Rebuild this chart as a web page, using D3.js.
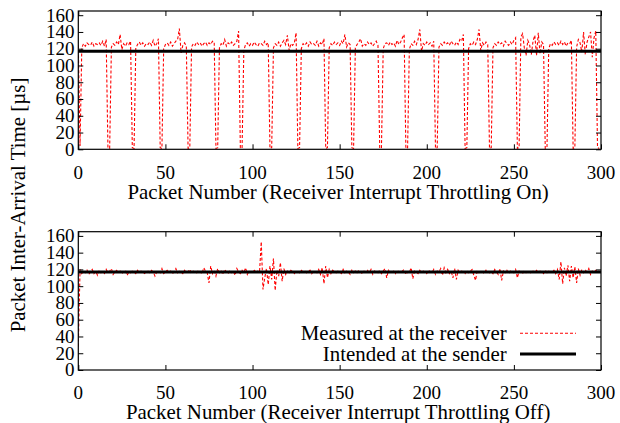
<!DOCTYPE html>
<html>
<head>
<meta charset="utf-8">
<script src="https://cdn.jsdelivr.net/npm/d3@7"></script>
<style>
  html, body { margin: 0; padding: 0; background: #fff; }
</style>
</head>
<body>
<svg id="chart" width="620" height="423"></svg>
<script>
// ---- Data ----
const xTicks = [0, 50, 100, 150, 200, 250, 300];
const yTicks = [0, 20, 40, 60, 80, 100, 120, 140, 160];
const yLabel = "Packet Inter-Arrival Time [µs]";
const xLabelOn = "Packet Number (Receiver Interrupt Throttling On)";
const xLabelOff = "Packet Number (Receiver Interrupt Throttling Off)";
const legendMeasured = "Measured at the receiver";
const legendIntended = "Intended at the sender";

// Intended inter-arrival time at the sender (constant), endpoints in packet number
const intendedPackets = [0, 300];
const intendedValues = [117, 117];

// Measured at receiver, throttling ON (packets 0..299)
const measuredOn = [
  124, 4, 121, 126, 123, 127, 125, 124, 128, 123,
  126, 125, 127, 124, 129, 123, 131, 2, 1, 122,
  126, 124, 128, 125, 137, 119, 126, 123, 127, 125,
  129, 2, 1, 121, 125, 128, 124, 127, 123, 126,
  125, 128, 124, 130, 123, 126, 132, 2, 1, 120,
  125, 127, 124, 128, 123, 126, 129, 131, 144, 115,
  124, 127, 123, 1, 2, 122, 126, 124, 128, 125,
  127, 123, 126, 128, 124, 127, 125, 129, 128, 1,
  2, 121, 126, 124, 131, 123, 127, 125, 128, 124,
  126, 129, 141, 2, 1, 118, 125, 127, 123, 126,
  124, 128, 125, 123, 127, 126, 124, 129, 125, 127,
  1, 2, 121, 126, 124, 128, 123, 127, 130, 125,
  136, 118, 126, 124, 127, 139, 1, 2, 120, 126,
  124, 127, 123, 128, 125, 126, 124, 129, 123, 127,
  125, 132, 1, 2, 121, 126, 124, 128, 125, 127,
  124, 129, 126, 137, 122, 127, 125, 2, 1, 121,
  125, 128, 132, 123, 126, 124, 128, 125, 127, 123,
  126, 129, 124, 1, 2, 120, 126, 127, 124, 128,
  125, 127, 123, 130, 125, 128, 133, 137, 1, 2,
  119, 126, 124, 129, 125, 131, 143, 117, 126, 124,
  128, 125, 127, 123, 129, 1, 2, 122, 126, 124,
  128, 125, 127, 124, 129, 126, 124, 128, 125, 131,
  129, 137, 1, 2, 120, 126, 124, 128, 125, 131,
  143, 118, 127, 124, 128, 125, 1, 2, 121, 126,
  124, 128, 125, 127, 123, 129, 126, 124, 128, 125,
  130, 133, 1, 2, 134, 138, 121, 112, 130, 125,
  113, 129, 136, 112, 139, 114, 128, 125, 1, 2,
  120, 126, 124, 128, 125, 127, 124, 129, 125, 128,
  123, 127, 126, 130, 1, 2, 122, 131, 127, 116,
  140, 113, 128, 134, 140, 110, 133, 141, 2, 1
];

// Measured at receiver, throttling OFF (packets 0..299)
const measuredOff = [
  28, 120, 115, 118, 116, 119, 114, 117, 120, 115,
  118, 113, 119, 116, 117, 115, 120, 116, 118, 121,
  114, 117, 119, 116, 118, 115, 117, 119, 113, 117,
  116, 118, 117, 115, 119, 116, 118, 117, 115, 117,
  118, 116, 119, 117, 112, 117, 118, 116, 121, 115,
  117, 119, 116, 118, 115, 117, 121, 116, 118, 117,
  115, 119, 116, 117, 120, 115, 118, 117, 116, 119,
  117, 115, 122, 118, 116, 104, 124, 115, 119, 112,
  121, 116, 118, 114, 120, 117, 115, 119, 116, 118,
  113, 121, 117, 115, 119, 116, 122, 114, 118, 117,
  116, 119, 117, 118, 116, 153, 96, 110, 121, 102,
  124, 108, 133, 95, 119, 112, 128, 106, 121, 114,
  118, 116, 119, 117, 115, 118, 117, 116, 119, 117,
  118, 116, 117, 119, 115, 118, 117, 116, 120, 114,
  122, 103, 124, 110, 120, 115, 119, 117, 116, 118,
  117, 115, 120, 116, 118, 117, 114, 119, 116, 118,
  116, 119, 117, 115, 118, 117, 119, 116, 120, 114,
  118, 117, 116, 119, 115, 118, 121, 110, 119, 116,
  117, 118, 115, 119, 117, 116, 118, 120, 114, 117,
  116, 122, 109, 118, 117, 115, 119, 116, 118, 117,
  115, 119, 117, 116, 120, 114, 118, 117, 121, 113,
  122, 116, 120, 115, 118, 110, 121, 108, 119, 116,
  118, 117, 115, 119, 116, 118, 120, 113, 107, 119,
  116, 118, 117, 115, 119, 117, 116, 118, 115, 120,
  117, 114, 121, 107, 118, 116, 119, 115, 118, 117,
  116, 120, 110, 118, 117, 115, 119, 116, 118, 117,
  115, 118, 117, 119, 116, 118, 117, 115, 119, 116,
  118, 117, 116, 119, 115, 120, 108, 129, 103, 122,
  112, 125, 106, 124, 110, 123, 104, 121, 113, 120,
  116, 119, 117, 121, 114, 118, 116, 119, 117, 118
];

// ---- Drawing ----
const svg = d3.select("#chart");
const FONT = '"Liberation Serif"';
const left = 78.3, right = 601;
const xDomain = [0, 300], yDomain = [0, 165];

const panels = [
  { data: measuredOn, top: 11, bottom: 149.3, label: xLabelOn, tickBase: 179, labelBase: 199 },
  { data: measuredOff, top: 231.7, bottom: 370, label: xLabelOff, tickBase: 399, labelBase: 418.5 }
];

const tickLen = 5;
const red = "#ff0000";

function txt(sel) {
  return sel.style("font-family", FONT).attr("fill", "#000");
}

panels.forEach((p, pi) => {
  const x = d3.scaleLinear().domain(xDomain).range([left, right]);
  const y = d3.scaleLinear().domain(yDomain).range([p.bottom, p.top]);
  const g = svg.append("g");

  const clipId = "clip" + pi;
  svg.append("defs").append("clipPath").attr("id", clipId)
    .append("rect").attr("x", left).attr("y", p.top)
    .attr("width", right - left).attr("height", p.bottom - p.top);

  // measured line
  const line = d3.line().x((d, i) => x(i)).y(d => y(d));
  g.append("path").datum(p.data)
    .attr("clip-path", `url(#${clipId})`)
    .attr("d", line)
    .attr("fill", "none").attr("stroke", red)
    .attr("stroke-width", 1.1).attr("stroke-dasharray", "3,2");

  // intended line
  const iline = d3.line().x((d, i) => x(intendedPackets[i])).y(d => y(d));
  g.append("path").datum(intendedValues)
    .attr("d", iline)
    .attr("fill", "none").attr("stroke", "#000").attr("stroke-width", 3);

  // axes (ticks inward, mirrored)
  const axL = d3.axisLeft(y).tickValues(yTicks).tickSize(-tickLen).tickFormat("");
  const axR = d3.axisRight(y).tickValues(yTicks).tickSize(-tickLen).tickFormat("");
  const axB = d3.axisBottom(x).tickValues(xTicks).tickSize(-tickLen).tickFormat("");
  const axT = d3.axisTop(x).tickValues(xTicks).tickSize(-tickLen).tickFormat("");

  g.append("g").attr("transform", `translate(${left},0)`).call(axL);
  g.append("g").attr("transform", `translate(${right},0)`).call(axR);
  g.append("g").attr("transform", `translate(0,${p.bottom})`).call(axB);
  g.append("g").attr("transform", `translate(0,${p.top})`).call(axT);

  g.selectAll(".domain").remove();
  g.selectAll(".tick text").remove();
  g.selectAll(".tick line").attr("stroke", "#000").attr("stroke-width", 1);

  // y tick labels
  txt(g.selectAll(".ytl").data(yTicks).enter().append("text"))
    .attr("x", 74.5).attr("y", d => y(d)).attr("dy", "0.34em")
    .attr("text-anchor", "end").attr("font-size", "19px")
    .text(d => d);

  // x tick labels
  txt(g.selectAll(".xtl").data(xTicks).enter().append("text"))
    .attr("x", d => x(d)).attr("y", p.tickBase)
    .attr("text-anchor", "middle").attr("font-size", "19px")
    .text(d => d);

  // frame
  g.append("rect").attr("x", left).attr("y", p.top)
    .attr("width", right - left).attr("height", p.bottom - p.top)
    .attr("fill", "none").attr("stroke", "#000").attr("stroke-width", 1.2);

  // x label
  txt(g.append("text"))
    .attr("x", (left + right) / 2 - 1.5).attr("y", p.labelBase)
    .attr("text-anchor", "middle").attr("font-size", "20.9px")
    .text(p.label);
});

// y label
txt(svg.append("text"))
  .attr("transform", "translate(25,205) rotate(-90)")
  .attr("text-anchor", "middle").attr("font-size", "20.9px")
  .text(yLabel);

// legend
const lg = svg.append("g");
txt(lg.append("text")).attr("x", 506.7).attr("y", 340).attr("text-anchor", "end")
  .attr("font-size", "20.9px").text(legendMeasured);
txt(lg.append("text")).attr("x", 506.7).attr("y", 360.7).attr("text-anchor", "end")
  .attr("font-size", "20.9px").text(legendIntended);
lg.append("line").attr("x1", 520).attr("x2", 576).attr("y1", 333.3).attr("y2", 333.3)
  .attr("stroke", red).attr("stroke-width", 1.1).attr("stroke-dasharray", "3,2");
lg.append("line").attr("x1", 520).attr("x2", 576).attr("y1", 354).attr("y2", 354)
  .attr("stroke", "#000").attr("stroke-width", 3);
</script>
</body>
</html>
